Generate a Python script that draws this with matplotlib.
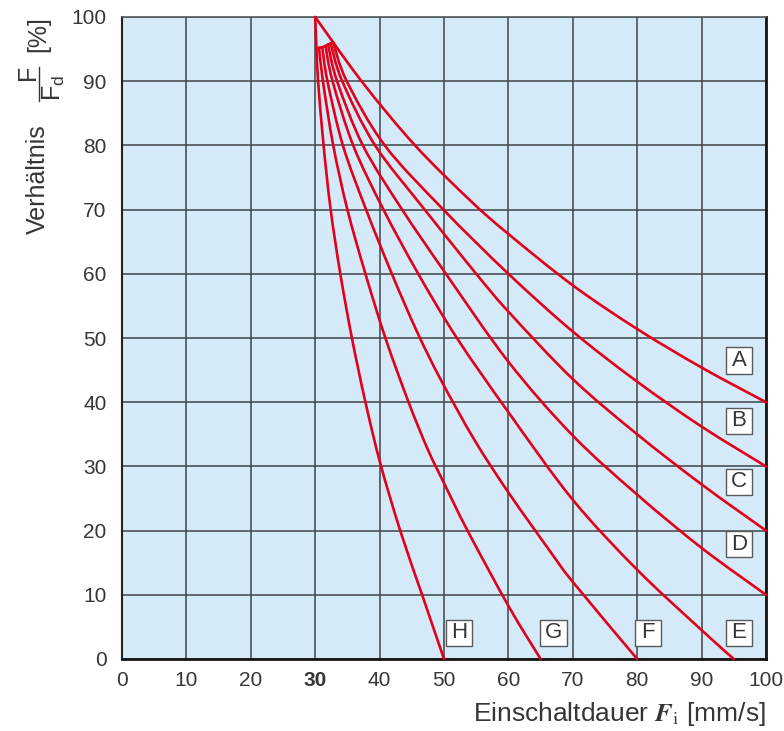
import matplotlib
matplotlib.use("Agg")
import numpy as np
import matplotlib.pyplot as plt
from matplotlib.patches import Rectangle, PathPatch
from matplotlib.path import Path
from matplotlib.lines import Line2D

plt.rcParams["font.family"] = ["Liberation Sans", "DejaVu Sans"]

# ---- data -------------------------------------------------------------
x_ticks = [0, 10, 20, 30, 40, 50, 60, 70, 80, 90, 100]
y_ticks = [0, 10, 20, 30, 40, 50, 60, 70, 80, 90, 100]

curve_names = ["A", "B", "C", "D", "E", "F", "G", "H"]

A_x = [30.0, 37.2, 45.5, 54.2, 60.0, 70.0, 80.0, 90.0, 100.0]
A_y = [100.0, 90.0, 80.0, 71.3, 66.2, 58.2, 51.4, 45.4, 40.0]

B_x = [32.8, 34.9, 40.8, 49.9, 60.0, 70.0, 80.0, 90.0, 100.0]
B_y = [96.0, 90.0, 80.0, 70.0, 60.0, 51.0, 43.2, 36.2, 30.0]

C_x = [32.4, 34.2, 39.3, 47.0, 55.0, 60.1, 70.0, 80.0, 90.0, 100.0]
C_y = [95.9, 90.0, 80.0, 70.0, 60.0, 54.0, 43.6, 35.0, 27.2, 20.0]

D_x = [32.0, 33.4, 37.4, 43.5, 50.3, 60.0, 70.0, 80.0, 90.0, 100.0]
D_y = [95.7, 90.0, 80.0, 70.0, 60.0, 46.3, 34.8, 25.6, 17.3, 10.0]

E_x = [31.6, 32.7, 35.9, 40.6, 46.0, 52.0, 60.1, 70.0, 80.0, 90.0, 95.0]
E_y = [95.5, 90.0, 80.0, 70.0, 60.0, 50.0, 38.3, 24.8, 13.9, 4.5, 0.0]

F_x = [31.1, 31.9, 34.3, 37.9, 41.9, 45.8, 49.5, 54.8, 60.1, 66.6, 70.0, 80.0]
F_y = [95.3, 90.0, 80.0, 70.0, 60.0, 51.0, 43.5, 34.0, 25.8, 16.6, 12.0, 0.0]

G_x = [30.6, 31.2, 32.8, 35.0, 37.8, 40.9, 44.5, 47.5, 50.0, 53.6, 60.1, 65.0]
G_y = [95.2, 90.0, 80.0, 70.0, 60.0, 50.0, 40.0, 32.6, 27.4, 20.1, 8.1, 0.0]

H_x = [30.0, 30.2, 30.45, 31.3, 32.4, 33.9, 35.7, 37.8, 40.1, 43.2, 46.6, 50.0]
H_y = [100.0, 95.0, 90.0, 80.0, 70.0, 60.0, 50.0, 40.0, 30.5, 20.0, 10.0, 0.0]

curves = {
    "A": (A_x, A_y), "B": (B_x, B_y), "C": (C_x, C_y), "D": (D_x, D_y),
    "E": (E_x, E_y), "F": (F_x, F_y), "G": (G_x, G_y), "H": (H_x, H_y),
}

# curve tags: box centres (data coordinates)
tag_pos = {
    "A": (95.8, 46.5), "B": (95.8, 37.1), "C": (95.8, 27.6), "D": (95.8, 17.9),
    "E": (95.8, 4.1), "F": (81.7, 4.1), "G": (67.0, 4.1), "H": (52.3, 4.1),
}

# ---- styling ----------------------------------------------------------
RED = "#e2001a"
TXT = "#363636"
BG = "#d4eaf9"
GRID = "#3f4448"

W, H = 784, 731


def fig_xy(px, py):
    """pixel position (from top-left) -> figure fraction"""
    return px / W, 1 - py / H


def smooth_path(xs, ys):
    """Bezier path running smoothly through the given points."""
    pts = np.column_stack([xs, ys]).astype(float)
    n = len(pts)
    verts = [pts[0]]
    codes = [Path.MOVETO]
    for i in range(n - 1):
        p0 = pts[i - 1] if i > 0 else pts[i]
        p1, p2 = pts[i], pts[i + 1]
        p3 = pts[i + 2] if i + 2 < n else pts[i + 1]
        verts += [p1 + (p2 - p0) / 6.0, p2 - (p3 - p1) / 6.0, p2]
        codes += [Path.CURVE4] * 3
    return Path(verts, codes)


fig = plt.figure(figsize=(W / 100, H / 100), dpi=100)
ax = fig.add_axes([122 / W, 1 - 659 / H, (766 - 122) / W, (659 - 17) / H])
ax.set_facecolor(BG)
ax.set_xlim(0, 100)
ax.set_ylim(0, 100)
ax.set_xticks(x_ticks)
ax.set_yticks(y_ticks)
ax.set_xticklabels([str(v) for v in x_ticks])
ax.set_yticklabels([str(v) for v in y_ticks])
ax.xaxis.get_ticklabels()[3].set_fontweight("bold")
ax.tick_params(axis="both", length=0, labelsize=15, labelcolor=TXT)
ax.tick_params(axis="y", pad=11)
ax.tick_params(axis="x", pad=9)
ax.grid(True, color=GRID, lw=1.1)
ax.set_axisbelow(True)

ax.spines["top"].set_color("#555a5e")
ax.spines["top"].set_linewidth(1.2)
ax.spines["left"].set_color("#222222")
ax.spines["left"].set_linewidth(1.5)
for s in ("bottom", "right"):
    ax.spines[s].set_color("#151515")
    ax.spines[s].set_linewidth(2.0)

# the curves
for name in curve_names:
    cx, cy = curves[name]
    ax.add_patch(PathPatch(smooth_path(cx, cy), facecolor="none", edgecolor=RED,
                           lw=1.9, capstyle="round", joinstyle="round",
                           clip_on=False, zorder=3))

# short arc joining the tops of the fanned curves
fan_x = [curves[n][0][0] for n in ["B", "C", "D", "E", "F", "G"]] + [H_x[1]]
fan_y = [curves[n][1][0] for n in ["B", "C", "D", "E", "F", "G"]] + [H_y[1]]
ax.plot(fan_x, fan_y, color=RED, lw=1.9, solid_capstyle="round", zorder=3)

# tag boxes
bw, bh = 4.1, 4.1
for name in curve_names:
    tx, ty = tag_pos[name]
    ax.add_patch(Rectangle((tx - bw / 2, ty - bh / 2), bw, bh, facecolor="white",
                           edgecolor="#5a5a5a", lw=1.0, zorder=4))
    ax.text(tx, ty, name, ha="center", va="center", fontsize=16,
            color=TXT, zorder=5)

# x axis title
fig.text(*fig_xy(766, 721), r"Einschaltdauer $\mathbfit{F}_{\mathrm{i}}$ [mm/s]",
         ha="right", va="baseline", fontsize=19, color=TXT, math_fontfamily="stix")

# y axis title: "Verhältnis  F / F_d  [%]" set vertically
ylab = dict(rotation=90, rotation_mode="anchor", va="baseline", color=TXT,
            fontsize=18)
fig.text(*fig_xy(45, 234), "Verhältnis", ha="left", **ylab)
fig.text(*fig_xy(35, 80), "F", ha="left", **ylab)
fig.text(*fig_xy(61, 101), r"F$_\mathregular{d}$", ha="left", **ylab)
fig.text(*fig_xy(45, 52), "[%]", ha="left", **ylab)
bx0, by0 = fig_xy(39, 101)
bx1, by1 = fig_xy(39, 67)
fig.add_artist(Line2D([bx0, bx1], [by0, by1], color=TXT, lw=1.0))

fig.savefig("out.png", dpi=100)
